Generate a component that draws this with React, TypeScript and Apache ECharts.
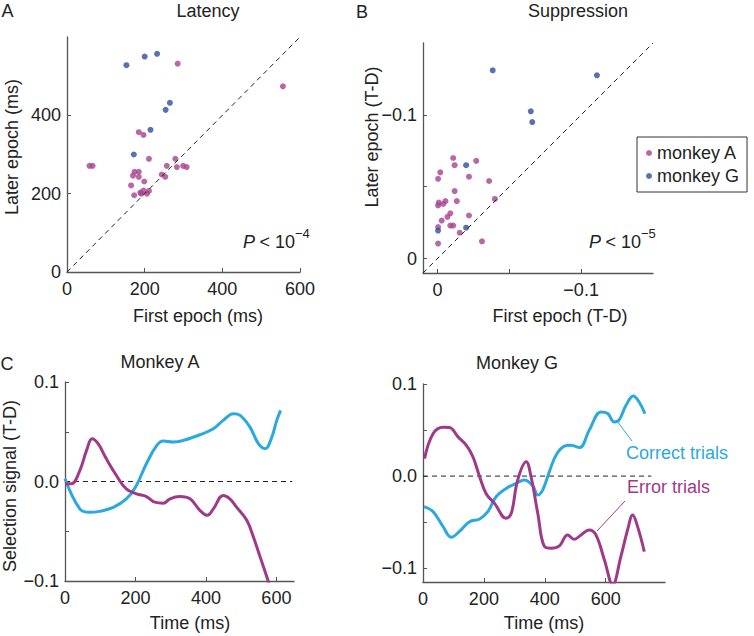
import React, { useEffect, useRef } from "react";
import * as echarts from "echarts";

const FONT = "'Liberation Sans', Arial, Helvetica, sans-serif";
const MAG = "#A8428E";
const BLUE = "#2E4D9E";
const CYAN = "#2BA9DF";
const LMAG = "#9E3A89";
const TXT = "#222";
const AX = "#555";

// Panel A: latency (first epoch ms, later epoch ms)
const latencyMonkeyA: number[][] = [
  [58, 271], [66, 271], [285, 532], [556, 474], [185, 357], [197, 350], [211, 289],
  [279, 289], [257, 271], [283, 268], [299, 271], [308, 268], [244, 249], [253, 243],
  [174, 256], [185, 256], [170, 246], [185, 243], [165, 221], [199, 231], [173, 196],
  [189, 203], [197, 208], [206, 200], [211, 207], [191, 200],
];
const latencyMonkeyG: number[][] = [
  [153, 528], [200, 550], [232, 557], [254, 414], [265, 432], [215, 363], [172, 300],
];
const diagA: number[][] = [[0, 0], [600, 600]];

// Panel B: suppression (T-D)
const suppMonkeyA: number[][] = [
  [-0.011, -0.07], [-0.012, -0.065], [-0.027, -0.068], [-0.002, -0.06], [-0.0005, -0.0555],
  [-0.022, -0.057], [-0.036, -0.054], [-0.012, -0.047], [-0.0135, -0.04], [-0.0056, -0.04],
  [-0.001, -0.039], [-0.004, -0.038], [-0.0005, -0.037], [-0.04, -0.0415], [-0.009, -0.0315],
  [-0.007, -0.029], [-0.003, -0.0265], [-0.022, -0.03], [-0.009, -0.023], [-0.011, -0.023],
  [-0.0005, -0.022], [-0.0155, -0.018], [-0.031, -0.012], [-0.0005, -0.0105],
];
const suppMonkeyG: number[][] = [
  [-0.0385, -0.131], [-0.111, -0.1275], [-0.065, -0.1025], [-0.066, -0.095],
  [-0.02, -0.065], [-0.02, -0.0215], [-0.0005, -0.0195],
];
const diagB: number[][] = [[0.01, 0.01], [-0.15, -0.15]];

// Panel C: Monkey A selection signal
const monkeyACorrect: number[][] = [
  [0, 0.0027], [42, -0.0275], [70, -0.031], [98, -0.03], [137, -0.026], [174, -0.0175],
  [200, -0.0057], [231, 0.0178], [260, 0.036], [279, 0.0406], [307, 0.0396], [336, 0.0413],
  [383, 0.047], [421, 0.053], [449, 0.0614], [478, 0.068], [497, 0.0664], [525, 0.0547],
  [549, 0.038], [568, 0.033], [587, 0.0446], [601, 0.0614], [612, 0.0715],
];
const monkeyAError: number[][] = [
  [0, -0.0023], [18, -0.0023], [42, 0.011], [61, 0.031], [77, 0.043], [94, 0.038],
  [117, 0.023], [146, 0.006], [174, -0.0074], [203, -0.0124], [231, -0.0151], [255, -0.0208],
  [279, -0.0218], [298, -0.0174], [326, -0.0151], [355, -0.0174], [383, -0.029], [404, -0.034],
  [421, -0.0275], [449, -0.014], [468, -0.0174], [487, -0.0258], [516, -0.039], [535, -0.056],
  [554, -0.076], [573, -0.096], [580, -0.104],
];
const zeroLineA: number[][] = [[0, 0], [645, 0]];

// Panel C: Monkey G selection signal
const monkeyGCorrect: number[][] = [
  [3, -0.0332], [33, -0.0386], [66, -0.055], [93, -0.0664], [120, -0.06], [153, -0.0495],
  [186, -0.0466], [213, -0.0386], [240, -0.0224], [273, -0.0134], [306, -0.0079], [333, -0.0043],
  [361, -0.0108], [377, -0.0206], [393, -0.0152], [415, 0.0047], [437, 0.0227], [464, 0.0325],
  [486, 0.0336], [514, 0.031], [546, 0.0498], [585, 0.0697], [607, 0.0679], [628, 0.0588],
  [645, 0.0614], [667, 0.0769], [691, 0.087], [710, 0.0805], [729, 0.0679],
];
const monkeyGError: number[][] = [
  [5, 0.019], [33, 0.046], [66, 0.053], [87, 0.0527], [115, 0.0426], [142, 0.0336],
  [164, 0.021], [186, -0.0007], [208, -0.0195], [235, -0.0296], [273, -0.0458], [290, -0.0404],
  [311, -0.0043], [339, 0.0155], [355, -0.0007], [377, -0.0404], [399, -0.0765], [421, -0.0783],
  [448, -0.0758], [475, -0.0639], [497, -0.0686], [519, -0.0639], [546, -0.0585], [568, -0.0639],
  [596, -0.091], [623, -0.118], [650, -0.0874], [672, -0.0585], [689, -0.0422], [705, -0.0549],
  [727, -0.082],
];
const zeroLineG: number[][] = [[0, 0], [750, 0]];

const ticksAx = [0, 200, 400, 600];
const ticksAy = [0, 200, 400];
const ticksB = [0, -0.05, -0.1];
const labelsB = [0, -0.1];
const ticksTime = [0, 200, 400, 600];
const ticksSignal = [-0.1, -0.05, 0, 0.05, 0.1];
const labelsSignal = [-0.1, 0, 0.1];

const minus = (s: string) => s.replace("-", "\u2212");

function axis(o: any) {
  return {
    type: "value",
    gridIndex: o.grid,
    min: o.min,
    max: o.max,
    inverse: !!o.inverse,
    axisLine: { show: true, onZero: false, lineStyle: { color: AX, width: 1.3 } },
    axisTick: {
      show: true,
      inside: true,
      length: 4,
      customValues: o.ticks,
      lineStyle: { color: AX, width: 1 },
    },
    axisLabel: {
      show: true,
      customValues: o.labels,
      formatter: o.fmt,
      fontSize: 18,
      color: TXT,
      fontFamily: FONT,
      margin: o.margin ?? 6,
    },
    splitLine: { show: false },
  };
}

function txt(x: number, y: number, text: string, extra: any = {}) {
  return {
    type: "text",
    x,
    y,
    rotation: extra.rotation || 0,
    silent: true,
    style: {
      text,
      fill: extra.fill || TXT,
      font: `${extra.fontStyle || "normal"} ${extra.size || 18}px ${FONT}`,
      align: extra.align || "center",
      verticalAlign: "middle",
    },
  };
}

export default function App() {
  const ref = useRef<HTMLDivElement>(null);
  useEffect(() => {
    if (!ref.current) return;
    const chart = echarts.init(ref.current, undefined, { renderer: "svg" });
    const dash = { type: [5, 4], color: "#222", width: 1 };
    const lineBase = {
      type: "line",
      symbol: "none",
      silent: true,
      smooth: 0.4,
      clip: true,
      emphasis: { disabled: true },
    };
    chart.setOption({
      animation: false,
      backgroundColor: "#fff",
      textStyle: { fontFamily: FONT },
      grid: [
        { left: 67, top: 37, width: 233, height: 235 },
        { left: 423, top: 43, width: 230, height: 230 },
        { left: 65, top: 382, width: 229, height: 199 },
        { left: 423, top: 384, width: 242, height: 198 },
      ],
      xAxis: [
        axis({ grid: 0, min: 0, max: 600, ticks: ticksAx, labels: ticksAx, fmt: (v: number) => String(v), margin: 8 }),
        axis({
          grid: 1, min: -0.15, max: 0.01, inverse: true, ticks: ticksB, labels: labelsB,
          fmt: (v: number) => (v === 0 ? "0" : minus(String(v))), margin: 8,
        }),
        axis({ grid: 2, min: 0, max: 650, ticks: ticksTime, labels: ticksTime, fmt: (v: number) => String(v), margin: 8 }),
        axis({ grid: 3, min: 0, max: 795, ticks: ticksTime, labels: ticksTime, fmt: (v: number) => String(v), margin: 8 }),
      ],
      yAxis: [
        axis({ grid: 0, min: 0, max: 600, ticks: ticksAy, labels: ticksAy, fmt: (v: number) => String(v) }),
        axis({
          grid: 1, min: -0.15, max: 0.01, inverse: true, ticks: ticksB, labels: labelsB,
          fmt: (v: number) => (v === 0 ? "0" : minus(String(v))),
        }),
        axis({
          grid: 2, min: -0.1, max: 0.1, ticks: ticksSignal, labels: labelsSignal,
          fmt: (v: number) => minus(v.toFixed(1)),
        }),
        axis({
          grid: 3, min: -0.115, max: 0.1, ticks: ticksSignal, labels: labelsSignal,
          fmt: (v: number) => minus(v.toFixed(1)),
        }),
      ],
      legend: {
        data: [
          { name: "monkey A", itemStyle: { color: MAG } },
          { name: "monkey G", itemStyle: { color: BLUE } },
        ],
        orient: "vertical",
        left: 637,
        top: 137,
        icon: "circle",
        itemWidth: 6,
        itemHeight: 6,
        itemGap: 5,
        selectedMode: false,
        borderColor: "#333",
        borderWidth: 1,
        backgroundColor: "#fff",
        padding: [7, 8, 7, 9],
        textStyle: { fontSize: 18, color: TXT, fontFamily: FONT },
      },
      series: [
        { ...lineBase, smooth: false, xAxisIndex: 0, yAxisIndex: 0, data: diagA, lineStyle: dash },
        { type: "scatter", name: "monkey A", xAxisIndex: 0, yAxisIndex: 0, data: latencyMonkeyA, symbolSize: 6, itemStyle: { color: MAG } },
        { type: "scatter", name: "monkey G", xAxisIndex: 0, yAxisIndex: 0, data: latencyMonkeyG, symbolSize: 6, itemStyle: { color: BLUE } },
        { ...lineBase, smooth: false, xAxisIndex: 1, yAxisIndex: 1, data: diagB, lineStyle: dash },
        { type: "scatter", name: "monkey A", xAxisIndex: 1, yAxisIndex: 1, data: suppMonkeyA, symbolSize: 6, itemStyle: { color: MAG } },
        { type: "scatter", name: "monkey G", xAxisIndex: 1, yAxisIndex: 1, data: suppMonkeyG, symbolSize: 6, itemStyle: { color: BLUE } },
        { ...lineBase, smooth: false, xAxisIndex: 2, yAxisIndex: 2, data: zeroLineA, lineStyle: dash },
        { ...lineBase, xAxisIndex: 2, yAxisIndex: 2, data: monkeyACorrect, lineStyle: { color: CYAN, width: 3 } },
        { ...lineBase, xAxisIndex: 2, yAxisIndex: 2, data: monkeyAError, lineStyle: { color: LMAG, width: 3 } },
        { ...lineBase, smooth: false, xAxisIndex: 3, yAxisIndex: 3, data: zeroLineG, lineStyle: dash },
        { ...lineBase, xAxisIndex: 3, yAxisIndex: 3, data: monkeyGCorrect, lineStyle: { color: CYAN, width: 3 } },
        { ...lineBase, xAxisIndex: 3, yAxisIndex: 3, data: monkeyGError, lineStyle: { color: LMAG, width: 3 } },
      ],
      graphic: [
        txt(7.5, 11, "A"),
        txt(208, 11, "Latency"),
        txt(362, 12, "B"),
        txt(578, 11, "Suppression"),
        txt(7, 364, "C"),
        txt(160, 362, "Monkey A"),
        txt(517, 363, "Monkey G"),
        txt(12, 147, "Later epoch (ms)", { rotation: Math.PI / 2 }),
        txt(198, 316, "First epoch (ms)"),
        txt(372, 137, "Later epoch (T-D)", { rotation: Math.PI / 2 }),
        txt(560, 316, "First epoch (T-D)"),
        txt(10, 486, "Selection signal (T-D)", { rotation: Math.PI / 2 }),
        txt(190, 623, "Time (ms)"),
        txt(544, 623, "Time (ms)"),
        txt(243, 242, "P", { align: "left", fontStyle: "italic" }),
        txt(295, 242, " < 10", { align: "right" }),
        txt(295, 233, "\u22124", { align: "left", size: 13 }),
        txt(589, 242, "P", { align: "left", fontStyle: "italic" }),
        txt(641, 242, " < 10", { align: "right" }),
        txt(641, 233, "\u22125", { align: "left", size: 13 }),
        txt(626, 453, "Correct trials", { align: "left", fill: CYAN }),
        txt(627, 487, "Error trials", { align: "left", fill: LMAG }),
        {
          type: "line", silent: true,
          shape: { x1: 617, y1: 421, x2: 632, y2: 441 },
          style: { stroke: CYAN, lineWidth: 1 },
        },
        {
          type: "line", silent: true,
          shape: { x1: 597, y1: 531, x2: 625, y2: 501 },
          style: { stroke: LMAG, lineWidth: 1 },
        },
      ],
    });
    return () => chart.dispose();
  }, []);
  return (
    <div
      ref={ref}
      style={{ position: "fixed", left: 0, top: 0, width: 754, height: 636, background: "#fff" }}
    />
  );
}
